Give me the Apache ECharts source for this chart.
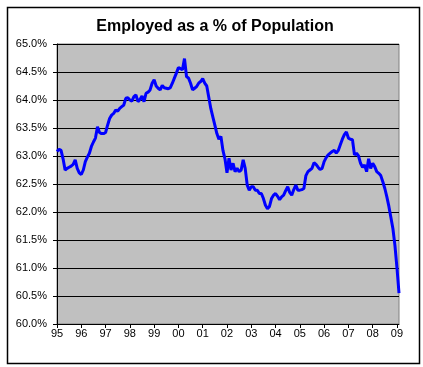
<!DOCTYPE html>
<html>
<head>
<meta charset="utf-8">
<script src="https://cdn.jsdelivr.net/npm/echarts@6/dist/echarts.min.js"></script>
<style>
html,body{margin:0;padding:0;background:#fff;}
#chart{width:423px;height:367px;}
</style>
</head>
<body>
<div id="chart"></div>
<script>
// Monthly employment-to-population ratio, Jan 1995 (index 0) .. Feb 2009 (index 169)
const startYear = 1995;
const yearLabels = ["95","96","97","98","99","00","01","02","03","04","05","06","07","08","09"];
const ratio = [
  63.08,63.12,63.10,62.95,62.75,62.78,62.80,62.82,62.85,62.93,62.78,62.70,
  62.67,62.75,62.90,62.98,63.05,63.17,63.25,63.32,63.52,63.42,63.40,63.40,
  63.42,63.55,63.67,63.73,63.76,63.82,63.80,63.85,63.88,63.91,64.03,64.04,
  64.00,63.98,64.06,64.09,63.97,64.01,64.07,63.97,64.12,64.14,64.18,64.30,
  64.36,64.25,64.21,64.18,64.26,64.22,64.21,64.20,64.22,64.30,64.39,64.48,
  64.58,64.56,64.54,64.74,64.42,64.39,64.30,64.18,64.21,64.24,64.30,64.33,
  64.38,64.30,64.25,64.05,63.85,63.70,63.55,63.40,63.30,63.35,63.10,62.95,
  62.70,62.96,62.75,62.87,62.72,62.78,62.72,62.75,62.93,62.78,62.48,62.39,
  62.45,62.45,62.39,62.39,62.33,62.33,62.24,62.12,62.06,62.10,62.24,62.30,
  62.33,62.28,62.22,62.27,62.30,62.38,62.45,62.35,62.30,62.40,62.48,62.39,
  62.39,62.40,62.42,62.65,62.72,62.75,62.78,62.88,62.85,62.80,62.76,62.78,
  62.90,62.97,63.02,63.05,63.08,63.10,63.05,63.10,63.20,63.30,63.38,63.43,
  63.32,63.30,63.29,63.02,63.05,63.00,62.87,62.80,62.84,62.72,62.95,62.78,
  62.87,62.81,62.72,62.69,62.65,62.54,62.42,62.27,62.10,61.90,61.70,61.40,
  61.00,60.55
];
const seriesData = ratio.map((v, i) => [i, v]);

const chart = echarts.init(document.getElementById('chart'), null, {renderer: 'canvas'});
chart.setOption({
  animation: false,
  backgroundColor: '#ffffff',
  title: {
    text: 'Employed as a % of Population',
    left: 210, top: 14, textAlign: 'center',
    textStyle: {fontFamily: 'Liberation Sans, Arial, sans-serif', fontSize: 16, fontWeight: 'bold', color: '#000'}
  },
  graphic: [{
    type: 'rect', left: 5, top: 5, z: -1,
    shape: {width: 412, height: 356},
    style: {fill: 'none', stroke: '#000', lineWidth: 1.5}
  }],
  grid: {left: 57, right: 24, top: 44, bottom: 43, show: true, backgroundColor: '#C0C0C0', borderColor: '#808080', borderWidth: 1},
  xAxis: {
    type: 'value', min: 0, max: 169, interval: 12,
    splitLine: {show: false},
    axisLine: {show: true, lineStyle: {color: '#000', width: 1}},
    axisTick: {show: true, length: 4, lineStyle: {color: '#000'}},
    axisLabel: {
      fontFamily: 'Liberation Sans, Arial, sans-serif', fontSize: 11, color: '#000', margin: 4,
      showMaxLabel: false,
      formatter: v => (v % 12 === 0 ? yearLabels[v / 12] : '')
    }
  },
  yAxis: {
    type: 'value', min: 60, max: 65, interval: 0.5,
    axisLine: {show: true, lineStyle: {color: '#000', width: 1}},
    axisTick: {show: true, length: 4, lineStyle: {color: '#000'}},
    splitLine: {show: true, lineStyle: {color: '#000', width: 1}},
    axisLabel: {
      fontFamily: 'Liberation Sans, Arial, sans-serif', fontSize: 11, color: '#000', margin: 10,
      formatter: v => v.toFixed(1) + '%'
    }
  },
  series: [{
    type: 'line', data: seriesData, showSymbol: false, symbol: 'none',
    lineStyle: {color: '#0000FF', width: 3}, clip: true
  }]
});
</script>
</body>
</html>
